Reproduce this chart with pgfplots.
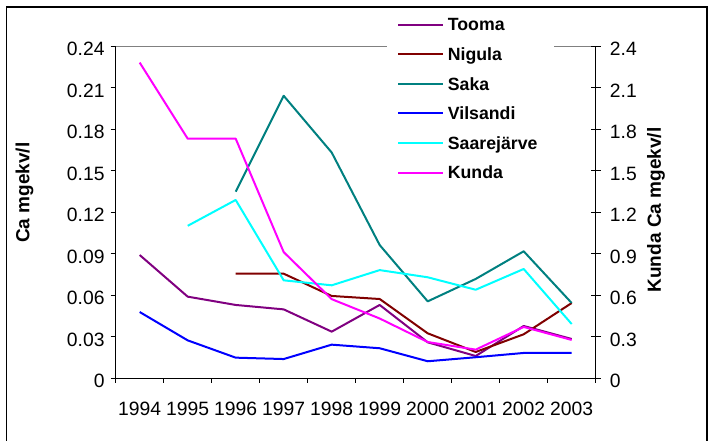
\documentclass[border=0pt]{standalone}
\usepackage{fontspec}
\setmainfont{Liberation Sans}
\usepackage{pgfplots}
\pgfplotsset{compat=1.18}
\definecolor{cTooma}{RGB}{128,0,128}
\definecolor{cNigula}{RGB}{128,0,0}
\definecolor{cSaka}{RGB}{0,128,128}
\definecolor{cVilsandi}{RGB}{0,0,255}
\definecolor{cSaare}{RGB}{0,255,255}
\definecolor{cKunda}{RGB}{255,0,255}
\pgfplotsset{
  common/.style={
    at={(115.7pt,63pt)}, anchor=south west, scale only axis,
    width=480pt, height=332pt,
    xmin=0.5, xmax=10.5,
    axis line style={black, line width=0.9pt, -},
    tick style={black, line width=0.9pt},
    /pgf/number format/assume math mode=true,
    ticklabel style={font=\fontsize{19.3}{21}\selectfont},
    every axis plot/.append style={line width=2pt, line join=round},
  }
}
\begin{document}
\begin{tikzpicture}[x=1pt,y=1pt]
\useasboundingbox (0,0) rectangle (713,441);
\begin{axis}[common,
  ymin=0, ymax=0.24,
  axis x line*=bottom, axis y line*=left,
  xtick={0.5,1.5,2.5,3.5,4.5,5.5,6.5,7.5,8.5,9.5,10.5},
  xticklabels={},
  extra x ticks={1,2,3,4,5,6,7,8,9,10},
  extra x tick labels={1994,1995,1996,1997,1998,1999,2000,2001,2002,2003},
  extra x tick style={major tick length=0pt},
  xticklabel style={anchor=north, inner sep=0pt, yshift=-24pt},
  ytick={0,0.03,0.06,0.09,0.12,0.15,0.18,0.21,0.24},
  yticklabels={0,0.03,0.06,0.09,0.12,0.15,0.18,0.21,0.24},
  yticklabel style={anchor=east, inner sep=0pt, xshift=-6pt, yshift=-3pt},
  tick align=outside, major tick length=5pt,
  ylabel={Ca mgekv/l},
  ylabel style={at={(axis description cs:-0.1900,0.5578)}, anchor=center, rotate=0, font=\bfseries\fontsize{19}{21}\selectfont},
]
\draw[gray, line width=0.9pt] (axis description cs:0,1) -- (axis description cs:1,1);
\addplot[cTooma] coordinates {(1,0.0889) (2,0.0588) (3,0.0528) (4,0.0496) (5,0.0335) (6,0.0528) (7,0.0258) (8,0.0159) (9,0.0376) (10,0.0282)};
\addplot[cNigula] coordinates {(3,0.0754) (4,0.0754) (5,0.0593) (6,0.0571) (7,0.0323) (8,0.0188) (9,0.0316) (10,0.0542)};
\addplot[cSaka] coordinates {(3,0.1347) (4,0.2040) (5,0.1630) (6,0.0961) (7,0.0554) (8,0.0716) (9,0.0916) (10,0.0542)};
\addplot[cVilsandi] coordinates {(1,0.0477) (2,0.0272) (3,0.0147) (4,0.0137) (5,0.0241) (6,0.0215) (7,0.0121) (8,0.0150) (9,0.0181) (10,0.0181)};
\addplot[cSaare] coordinates {(2,0.1100) (3,0.1287) (4,0.0706) (5,0.0670) (6,0.0780) (7,0.0728) (8,0.0638) (9,0.0788) (10,0.0390)};
\end{axis}
\begin{axis}[common,
  ymin=0, ymax=2.4,
  axis x line=none, axis y line*=right,
  ytick={0,0.3,0.6,0.9,1.2,1.5,1.8,2.1,2.4},
  yticklabels={0,0.3,0.6,0.9,1.2,1.5,1.8,2.1,2.4},
  yticklabel style={anchor=west, inner sep=0pt, xshift=9pt, yshift=-3pt},
  tick align=center, major tick length=10pt,
  ylabel={Kunda Ca mgekv/l},
  ylabel style={at={(axis description cs:1.1256,0.506)}, anchor=center, rotate=0, font=\bfseries\fontsize{19}{21}\selectfont},
  legend image code/.code={\draw[#1] (0pt,0pt) -- (44.4pt,0pt);},
  legend style={at={(axis description cs:0.5652,1.1175)}, anchor=north west,
    draw=none, fill=white, inner xsep=10pt, inner ysep=11pt,
    row sep=16.9pt, column sep=4.3pt,
    cells={anchor=west},
    nodes={inner sep=0pt, text height=12.7pt, text depth=0pt, text width=96pt, align=left,
      font=\bfseries\fontsize{17.7}{20}\selectfont}},
]
\addlegendimage{cTooma, line width=2pt}\addlegendentry{Tooma}
\addlegendimage{cNigula, line width=2pt}\addlegendentry{Nigula}
\addlegendimage{cSaka, line width=2pt}\addlegendentry{Saka}
\addlegendimage{cVilsandi, line width=2pt}\addlegendentry{Vilsandi}
\addlegendimage{cSaare, line width=2pt}\addlegendentry{Saarejärve}
\addplot[cKunda] coordinates {(1,2.28) (2,1.73) (3,1.73) (4,0.91) (5,0.57) (6,0.43) (7,0.26) (8,0.205) (9,0.369) (10,0.275)};
\addlegendentry{Kunda}
\end{axis}
\draw[black, line width=1.2pt] (6.5,-10) rectangle (707,434);
\end{tikzpicture}
\end{document}
